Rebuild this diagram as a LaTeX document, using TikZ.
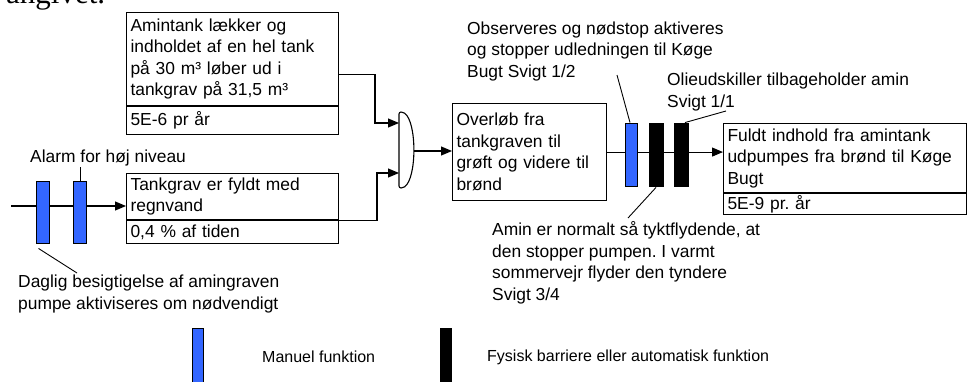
\documentclass[tikz,border=0pt]{standalone}
\usepackage{fontspec}
\setmainfont{Liberation Sans}
\newfontfamily\docserif{Liberation Serif}
\usetikzlibrary{arrows.meta}
\definecolor{mblue}{RGB}{51,102,255}
\newcommand\mainfs{\fontsize{17.4}{21.5}\selectfont}
\newcommand\legfs{\fontsize{16}{19}\selectfont}
\frenchspacing
\begin{document}
\begin{tikzpicture}[x=1pt,y=-1pt,
  box/.style={draw, line width=1.1pt, inner xsep=4pt, inner ysep=0pt, anchor=north west, align=left, font=\mainfs},
  conn/.style={line width=1.1pt},
  arr/.style={conn, -{Triangle[length=11pt,width=9pt]}},
  bar/.style={draw, line width=0.9pt, inner sep=0pt, minimum width=12pt, minimum height=63pt},
  manual/.style={bar, fill=mblue},
  phys/.style={bar, fill=black},
  lab/.style={font=\mainfs, align=left, inner sep=0pt, anchor=west},
  leg/.style={font=\legfs, inner sep=0pt, anchor=west},
  lead/.style={line width=0.9pt}]
\useasboundingbox (0,0) rectangle (967,381);
\clip (0,0) rectangle (967,381);
% cut-off text of the surrounding page
\node[font=\docserif\fontsize{31}{31}\selectfont, inner sep=0pt, anchor=base west] (pagetxt) at (6,3) {angivet.};
% boxes
\node[box, text width=204pt, minimum height=93pt] (b1top) at (126,12) {Amintank lækker og\\indholdet af en hel tank\\på 30 m³ løber ud i\\tankgrav på 31,5 m³};
\node[box, text width=204pt, minimum height=28pt] (b1bot) at (b1top.south west) {5E-6 pr år};
\node[box, text width=204pt, minimum height=46pt] (b2top) at (126,173) {Tankgrav er fyldt med\\regnvand};
\node[box, text width=204pt, minimum height=23pt] (b2bot) at (b2top.south west) {0,4 \% af tiden};
\node[box, text width=146pt, minimum height=97pt] (b3) at (452,103) {Overløb fra\\tankgraven til\\grøft og videre til\\brønd};
\node[box, text width=235pt, minimum height=69pt] (b4top) at (723,123) {Fuldt indhold fra amintank\\udpumpes fra brønd til Køge\\Bugt};
\node[box, text width=235pt, minimum height=21pt] (b4bot) at (b4top.south west) {5E-9 pr. år};
% gate
\draw[conn, rounded corners=2pt] (399,112) -- (399,188) -- (403,188) .. controls (417,178) and (417,122) .. (403,112) -- cycle;
\coordinate (gin1) at (399,123);
\coordinate (gin2) at (399,173);
\coordinate (gout) at (413.5,151);
% connectors
\draw[arr] ([yshift=-15.5pt]b1top.east) -| (375,123) -- (gin1);
\draw[arr] (b2top.south east) -| (377,173) -- (gin2);
\draw[arr] (gout) -- (gout -| b3.west);
\draw[arr] (b3.east) -- (b3.east -| b4top.west);
\coordinate (start) at (11,206);
\draw[arr] (start) -- (start -| b2top.west);
% barriers
\node[manual, minimum width=13pt, minimum height=62pt] (l1) at (42.5,212) {};
\node[manual, minimum width=13pt, minimum height=62pt] (l2) at (80,212) {};
\node[manual] (r1) at (631,154.5) {};
\node[phys, minimum width=14pt] (r2) at (656,154.5) {};
\node[phys, minimum width=14pt] (r3) at (681,154.5) {};
% labels
\node[lab] (talarm) at (30,158) {Alarm for høj niveau};
\node[lab] (tdaglig) at (18,294) {Daglig besigtigelse af amingraven\\pumpe aktiviseres om nødvendigt};
\node[lab] (tobs) at (467,51) {Observeres og nødstop aktiveres\\og stopper udledningen til Køge\\Bugt Svigt 1/2};
\node[lab] (tolie) at (667,92) {Olieudskiller tilbageholder amin\\Svigt 1/1};
\node[lab] (tamin) at (492,263) {Amin er normalt så tyktflydende, at\\den stopper pumpen. I varmt\\sommervejr flyder den tyndere\\Svigt 3/4};
% leader lines
\draw[lead] (80,167) -- (l2.north);
\draw[lead] ([xshift=-4pt,yshift=-5pt]l1.south) -- (77,273);
\draw[lead] (617,75) -- ([xshift=-1pt]r1.north);
\draw[lead] (726,111) -- ([xshift=4pt]r3.north);
\draw[lead] ([yshift=-1pt]r2.south) -- (628,218);
% legend
\node[manual, minimum width=11pt, minimum height=62pt, anchor=north] (lg1) at (197.5,328) {};
\node[phys, minimum width=11pt, minimum height=62pt, anchor=north] (lg2) at (446,328) {};
\node[leg] (tlg1) at (262,357) {Manuel funktion};
\node[leg] (tlg2) at (487,357) {Fysisk barriere eller automatisk funktion};
\end{tikzpicture}
\end{document}
